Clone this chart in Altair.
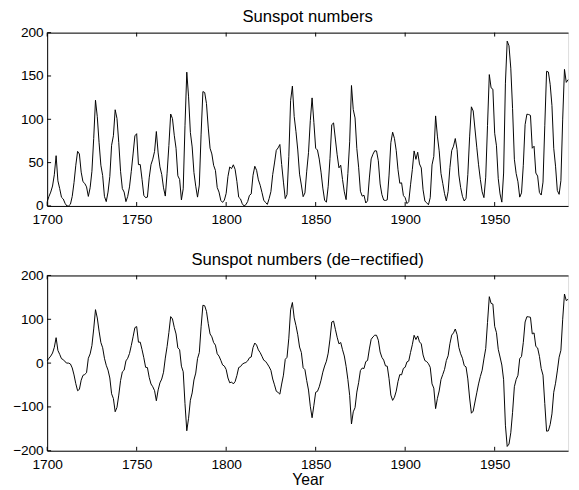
import altair as alt
import pandas as pd

# Annual sunspot numbers, 1700-1991
start_year = 1700
sunspots = [
    5, 11, 16, 23, 36, 58, 29, 20, 10, 8,
    3, 0, 0, 2, 11, 27, 47, 63, 60, 39,
    28, 26, 22, 11, 21, 40, 78, 122, 103, 73,
    47, 35, 11, 5, 16, 34, 70, 81, 111, 101,
    73, 40, 20, 16, 5, 11, 22, 40, 60, 80.9,
    83.4, 47.7, 47.8, 30.7, 12.2, 9.6, 10.2, 32.4, 47.6, 54.0,
    62.9, 85.9, 61.2, 45.1, 36.4, 20.9, 11.4, 37.8, 69.8, 106.1,
    100.8, 81.6, 66.5, 34.8, 30.6, 7.0, 19.8, 92.5, 154.4, 125.9,
    84.8, 68.1, 38.5, 22.8, 10.2, 24.1, 82.9, 132.0, 130.9, 118.1,
    89.9, 66.6, 60.0, 46.9, 41.0, 21.3, 16.0, 6.4, 4.1, 6.8,
    14.5, 34.0, 45.0, 43.1, 47.5, 42.2, 28.1, 10.1, 8.1, 2.5,
    0.0, 1.4, 5.0, 12.2, 13.9, 35.4, 45.8, 41.1, 30.1, 23.9,
    15.6, 6.6, 4.0, 1.8, 8.5, 16.6, 36.3, 49.6, 64.2, 67.0,
    70.9, 47.8, 27.5, 8.5, 13.2, 56.9, 121.5, 138.3, 103.2, 85.7,
    64.6, 36.7, 24.2, 10.7, 15.0, 40.1, 61.5, 98.5, 124.7, 96.3,
    66.6, 64.5, 54.1, 39.0, 20.6, 6.7, 4.3, 22.7, 54.8, 93.8,
    95.8, 77.2, 59.1, 44.0, 47.0, 30.5, 16.3, 7.3, 37.6, 74.0,
    139.0, 111.2, 101.6, 66.2, 44.7, 17.0, 11.3, 12.4, 3.4, 6.0,
    32.3, 54.3, 59.7, 63.7, 63.5, 52.2, 25.4, 13.1, 6.8, 6.3,
    7.1, 35.6, 73.0, 85.1, 78.0, 64.0, 41.8, 26.2, 26.7, 12.1,
    9.5, 2.7, 5.0, 24.4, 42.0, 63.5, 53.8, 62.0, 48.5, 43.9,
    18.6, 5.7, 3.6, 1.4, 9.6, 47.4, 57.1, 103.9, 80.6, 63.6,
    37.6, 26.1, 14.2, 5.8, 16.7, 44.3, 63.9, 69.0, 77.8, 64.9,
    35.7, 21.2, 11.1, 5.7, 8.7, 36.1, 79.7, 114.4, 109.6, 88.8,
    67.8, 47.5, 30.6, 16.3, 9.6, 33.2, 92.6, 151.6, 136.3, 134.7,
    83.9, 69.4, 31.5, 13.9, 4.4, 38.0, 141.7, 190.2, 184.8, 159.0,
    112.3, 53.9, 37.5, 27.9, 10.2, 15.1, 47.0, 93.8, 105.9, 105.5,
    104.5, 66.6, 68.9, 38.0, 34.5, 15.5, 12.6, 27.5, 92.5, 155.4,
    154.6, 140.4, 115.9, 66.6, 45.9, 17.9, 13.4, 29.2, 100.2, 157.6,
    142.6, 145.7,
]
years = list(range(start_year, start_year + len(sunspots)))

# Solar-cycle minima at which the de-rectified series changes sign
flip_years = [1712, 1723, 1733, 1744, 1755, 1766, 1775, 1784, 1798, 1810,
              1823, 1833, 1843, 1856, 1867, 1878, 1889, 1901, 1913, 1923,
              1933, 1944, 1954, 1964, 1976, 1986]

x_ticks = [1700, 1750, 1800, 1850, 1900, 1950]
top_y_ticks = [0, 50, 100, 150, 200]
bot_y_ticks = [-200, -100, 0, 100, 200]

sign = 1
derect = []
for yr, v in zip(years, sunspots):
    if yr in flip_years:
        sign = -sign
    derect.append(sign * v)

df = pd.DataFrame({"year": years, "ss": sunspots, "dr": derect})
xt = pd.DataFrame({"t": x_ticks})

W = 532
FONT = "Liberation Sans"
xscale = alt.Scale(domain=[1700, 1991], nice=False, zero=False)


def panel(field, title, yticks, ydom, h, xtitle):
    ysc = alt.Scale(domain=ydom, nice=False, zero=False)
    xaxis_kw = dict(values=x_ticks, format="d", ticks=False, tickSize=0,
                    labelPadding=7, labelFlush=False, grid=False,
                    domainColor="black", labelColor="black",
                    labelFont=FONT, labelFontSize=14,
                    titleFont=FONT, titleFontSize=16,
                    titleFontWeight="normal", titleColor="black",
                    titlePadding=0)
    xaxis_kw["title"] = xtitle if xtitle else None
    line = alt.Chart(df).mark_line(color="black", strokeWidth=1).encode(
        x=alt.X("year:Q", scale=xscale, axis=alt.Axis(**xaxis_kw)),
        y=alt.Y(f"{field}:Q", scale=ysc,
                axis=alt.Axis(values=yticks, ticks=False, tickSize=0,
                              labelPadding=4, labelFlush=False, grid=False,
                              domainColor="black", labelColor="black",
                              labelFont=FONT, labelFontSize=14, title=None)),
    )
    yt = pd.DataFrame({"v": yticks})
    top_axis = alt.Chart(xt).mark_rule(color="black").encode(
        x=alt.X("t:Q", scale=xscale,
                axis=alt.Axis(orient="top", labels=False, ticks=False, tickSize=0,
                              grid=False, domainColor="black", title=None)),
        y=alt.value(0), y2=alt.value(4),
    )
    bot_ticks = alt.Chart(xt).mark_rule(color="black").encode(
        x=alt.X("t:Q", scale=xscale, axis=None),
        y=alt.value(h), y2=alt.value(h - 4),
    )
    left_ticks = alt.Chart(yt).mark_rule(color="black").encode(
        y=alt.Y("v:Q", scale=ysc),
        x=alt.value(0), x2=alt.value(4),
    )
    return alt.layer(line, top_axis, bot_ticks, left_ticks).resolve_axis(
        x="independent"
    ).properties(
        width=W, height=h,
        title=alt.TitleParams(title, font=FONT, fontSize=17, fontWeight="normal",
                              color="black", offset=0, frame="group"),
    )


top = panel("ss", "Sunspot numbers", top_y_ticks, [0, 200], 177, None)
bot = panel("dr", "Sunspot numbers (de\u2212rectified)", bot_y_ticks, [-200, 200], 179, "Year")

chart = alt.vconcat(top, bot, spacing=23).properties(
    padding={"left": 3, "top": -6, "right": 0, "bottom": 0}
).configure_view(strokeWidth=0).configure(background="white")

chart.save("out.html", embed_options={"renderer": "svg", "actions": False})
